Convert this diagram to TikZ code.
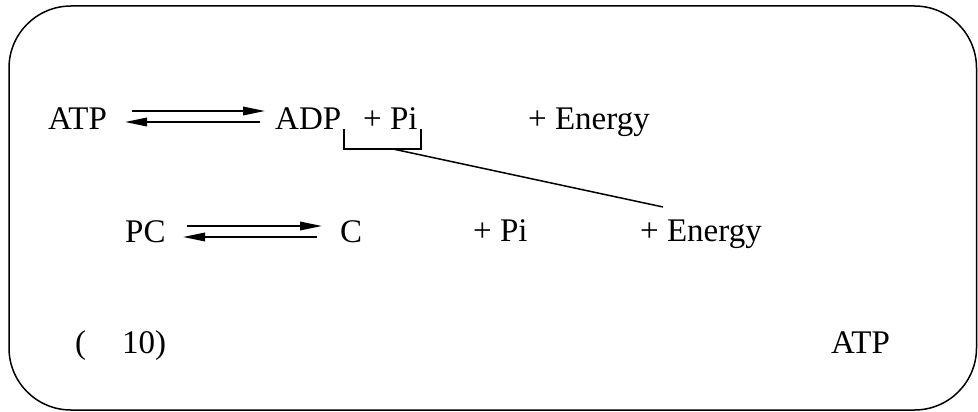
\documentclass[tikz,border=0pt]{standalone}
\usepackage{fontspec}
\setmainfont{Liberation Serif}
\usetikzlibrary{arrows.meta}
\begin{document}
\begin{tikzpicture}[x=1pt,y=-1pt,
  lbl/.style={anchor=base west,inner sep=0pt,font=\fontsize{33}{40}\selectfont},
  rxn/.style={line width=1.8pt,-{Triangle[length=22pt,width=8.5pt]}},
  ln/.style={line width=1.5pt}]
\useasboundingbox (0,0) rectangle (978,412);
\draw[line width=1.5pt,rounded corners=62pt] (9,6) rectangle (976.5,410);
% row 1
\node[lbl] (atp) at (48,129) {ATP};
\node[lbl] (adp) at (275,129) {ADP};
\node[lbl] (pi1) at (363,129) {+ Pi};
\node[lbl] (en1) at (528,129) {+ Energy};
\coordinate (a1s) at (132,111); \coordinate (a1e) at (265,111);
\coordinate (a2s) at (260,122); \coordinate (a2e) at (125,122);
\draw[rxn] (a1s) -- (a1e);
\draw[rxn] (a2s) -- (a2e);
% bracket
\coordinate (bl) at (344,129); \coordinate (blb) at (344,149);
\coordinate (br) at (421,129); \coordinate (brb) at (421,149);
\coordinate (bm) at (393,149); \coordinate (le) at (663,207);
\draw[ln] (bl) -- (blb) -- (brb) -- (br);
\draw[ln] (bm) -- (le);
% row 2
\node[lbl] (pc) at (125,242) {PC};
\node[lbl] (c) at (340,242) {C};
\node[lbl] (pi2) at (473,241) {+ Pi};
\node[lbl] (en2) at (640,241) {+ Energy};
\coordinate (b1s) at (187,226); \coordinate (b1e) at (322,226);
\coordinate (b2s) at (317,237); \coordinate (b2e) at (183,237);
\draw[rxn] (b1s) -- (b1e);
\draw[rxn] (b2s) -- (b2e);
% row 3
\node[lbl] (paren) at (75,353) {(\hspace{36pt}10)};
\node[lbl] (atp2) at (831,353) {ATP};
\end{tikzpicture}
\end{document}
